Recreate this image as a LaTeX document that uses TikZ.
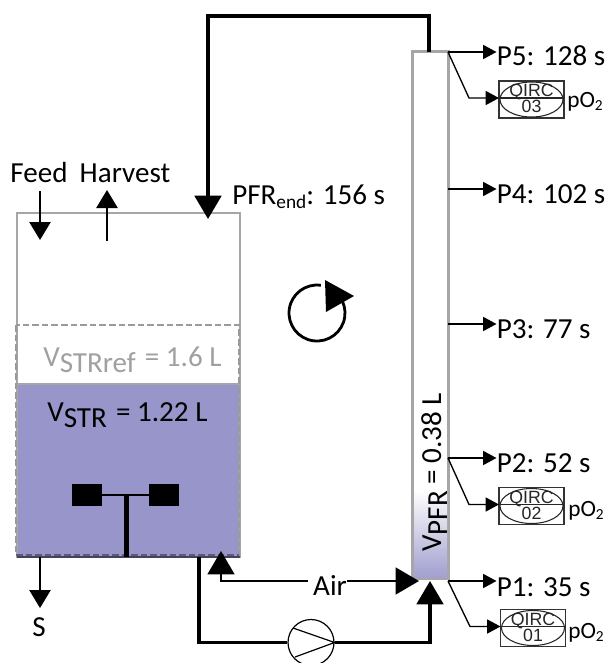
\documentclass[tikz,border=0pt]{standalone}
\usepackage{fontspec}
\setmainfont{Carlito}
\newfontfamily\qircfont{Liberation Sans}
\usetikzlibrary{arrows.meta}
\definecolor{liquid}{HTML}{9795C9}
\definecolor{wall}{HTML}{A6A6A6}
\definecolor{dashgray}{HTML}{9A9A9A}
\definecolor{reftext}{HTML}{A0A0A0}
\newcommand{\Vsub}[1]{V\raisebox{-4.5pt}{\fontsize{21.8}{22}\selectfont #1}}
\newcommand{\pOtwo}{\fontsize{17.5}{17.5}\selectfont pO\raisebox{-2.5pt}{\fontsize{11.5}{11.5}\selectfont 2}}
\tikzset{
  px/.style={x=0.75pt,y=0.75pt,yscale=-1},
  lbl/.style={inner sep=0pt,font=\fontsize{21.8}{24}\selectfont},
  big/.style={line width=2.3pt,-{Triangle[width=20pt,length=17.5pt]}},
  airline/.style={line width=1.9pt,-{Triangle[width=20pt,length=17.5pt]}},
  thin arrow/.style={line width=1.1pt,-{Triangle[width=16pt,length=13.5pt]}},
  port arrow/.style={line width=1pt,-{Triangle[width=10.5pt,length=10pt]}},
  plain line/.style={line width=2.3pt},
  qbox/.style={draw=black!80,line width=0.8pt,fill=white,minimum width=48.75pt,minimum height=27.75pt,inner sep=0pt},
  qtext/.style={inner sep=0pt,font=\qircfont\fontsize{13.3}{13.3}\selectfont,text=black!85},
  oxy/.style={inner sep=0pt,anchor=base west},
}
\begin{document}
\begin{tikzpicture}[px]
\useasboundingbox (0,0) rectangle (606,663);
% stirred tank
\fill[liquid] (17,384) rectangle (240,557);
\node[draw=wall,line width=1.5pt,minimum width=167.25pt,minimum height=258pt,inner sep=0pt] (str) at (128.5,385) {};
\draw[wall,line width=1.2pt] (17,384) -- (240,384);
\draw[black!55!liquid,line width=1.5pt] (17,557) -- (240,557);
\draw[dashgray,line width=1pt,dash pattern=on 5pt off 2.2pt] (16,325) rectangle (239,555);
\draw[black!40!liquid,line width=1pt,dash pattern=on 5pt off 2.2pt] (16,555) -- (239,555);
% impeller
\node[fill=black,minimum width=22.5pt,minimum height=16.5pt,inner sep=0pt] (bladeL) at (87,495) {};
\node[fill=black,minimum width=22.5pt,minimum height=16.5pt,inner sep=0pt] (bladeR) at (164,495) {};
\draw[line width=2.2pt] (bladeL) -- (bladeR);
\coordinate (hub) at (126.5,495);
\coordinate (shaftEnd) at (126.5,557);
\draw[line width=4.4pt] (hub) -- (shaftEnd);
% plug-flow reactor
\node[draw=wall,line width=1.5pt,fill=white,minimum width=26.25pt,minimum height=394.5pt,inner sep=0pt] (pfr) at (430.5,315) {};
\shade[top color=white,bottom color=liquid!90!white] (414,490) rectangle (447,577);
\draw[wall,line width=1.5pt] (pfr.south west) rectangle (pfr.north east);
\node[lbl,rotate=90,anchor=base west] (vpfr) at (441,552) {\Vsub{PFR} = 0.38 L};
% labels at tank
\node[lbl,anchor=base] (feed) at (39,182) {Feed};
\node[lbl,anchor=base] (harvest) at (125,182) {Harvest};
\node[lbl,anchor=base west] (pfrend) at (232,204) {PFR\raisebox{-3.5pt}{\fontsize{14.5}{14.5}\selectfont end}: 156 s};
\node[lbl,anchor=base west,text=reftext] (vref) at (43,366) {\Vsub{STRref}\kern2pt{} = 1.6 L};
\node[lbl,anchor=base west] (vstr) at (47,421) {\Vsub{STR}\kern2pt{} = 1.22 L};
\node[lbl,anchor=base] (s) at (39,636) {S};
\node[lbl,anchor=base] (air) at (330,595) {Air};
% feed, harvest, sample
\coordinate (feedA) at (40,191); \coordinate (feedB) at (40,240);
\draw[thin arrow] (feedA) -- (feedB);
\coordinate (harvA) at (107,241); \coordinate (harvB) at (107,190);
\draw[thin arrow] (harvA) -- (harvB);
\coordinate (sA) at (40,557); \coordinate (sB) at (40,608);
\draw[thin arrow] (sA) -- (sB);
% recirculation
\coordinate (pfrTop) at (429,52);
\coordinate (strIn) at (208,219);
\draw[big] (pfrTop) |- (208,16) -- (strIn);
% air
\coordinate (airStr) at (221,551);
\coordinate (airPfr) at (419,581);
\coordinate (airL) at ([xshift=-3.75pt]air.west |- airPfr);
\draw[airline] (airL) -- (221,581) -- (airStr);
\draw[airline] (air.east |- airPfr) -- (airPfr);
% pump
\node[draw,line width=0.9pt,circle,minimum size=34.5pt,inner sep=0pt] (pump) at (311,642.5) {};
\coordinate (pfrIn) at (430,581);
\coordinate (strOut) at (199,557);
\draw[plain line] (strOut) |- (pump.west);
\draw[big] (pump.east) -| (pfrIn);
\coordinate (pumpA) at (293,628); \coordinate (pumpB) at (295,657);
\draw[line width=0.9pt] (pumpA) -- (pump.east) -- (pumpB);
% sampling ports
\node[lbl,anchor=base west] (p5) at (496.5,66) {P5: 128 s};
\node[lbl,anchor=base west] (p4) at (496.5,203) {P4: 102 s};
\node[lbl,anchor=base west] (p3) at (496.5,338) {P3: 77 s};
\node[lbl,anchor=base west] (p2) at (496.5,472) {P2: 52 s};
\node[lbl,anchor=base west] (p1) at (496.5,596) {P1: 35 s};
\coordinate (o5) at (448,52);
\coordinate (o4) at (448,189);
\coordinate (o3) at (448,324);
\coordinate (o2) at (448,458);
\coordinate (o1) at (448,581);
\foreach \n in {1,...,5}{
  \draw[port arrow] (o\n) -- (p\n.west |- o\n);
}
% QIRC instruments
\foreach \n/\cx/\cy/\lab in {q3/531.5/99.5/03,q2/531.5/506/02,q1/533/628/01}{
  \node[qbox] (\n) at (\cx,\cy) {};
  \draw[black!85,line width=0.8pt] (\n.center) ellipse (31.5 and 17.5);
  \coordinate (\n l) at (\cx-32.5,\cy-1.5);
  \coordinate (\n r) at (\cx+32.5,\cy-1.5);
  \draw[black!85,line width=0.8pt] (\n l) -- (\n r);
  \node[qtext,anchor=base] (\n t) at (\cx,\cy-2.5) {QIRC};
  \node[qtext,anchor=base] (\n n) at (\cx,\cy+13.5) {\lab};
}
\coordinate (k3) at (469,98);
\coordinate (k2) at (469,504.5);
\coordinate (k1) at (470,626.5);
\draw[port arrow] (o5) -- (k3) -- (q3l);
\draw[port arrow] (o2) -- (k2) -- (q2l);
\draw[port arrow] (o1) -- (k1) -- (q1l);
\node[oxy] (ox3) at (567,107.5) {\pOtwo};
\node[oxy] (ox2) at (568,516.5) {\pOtwo};
\node[oxy] (ox1) at (568,638) {\pOtwo};
% rotation symbol
\coordinate (rotStart) at (320.9,285.3);
\draw[line width=2.1pt] (rotStart) arc[start angle=-82,end angle=-395,radius=28];
\coordinate (triA) at (325,280); \coordinate (triB) at (354,296); \coordinate (triC) at (326,312);
\fill (triA) -- (triB) -- (triC) -- cycle;
\end{tikzpicture}
\end{document}
